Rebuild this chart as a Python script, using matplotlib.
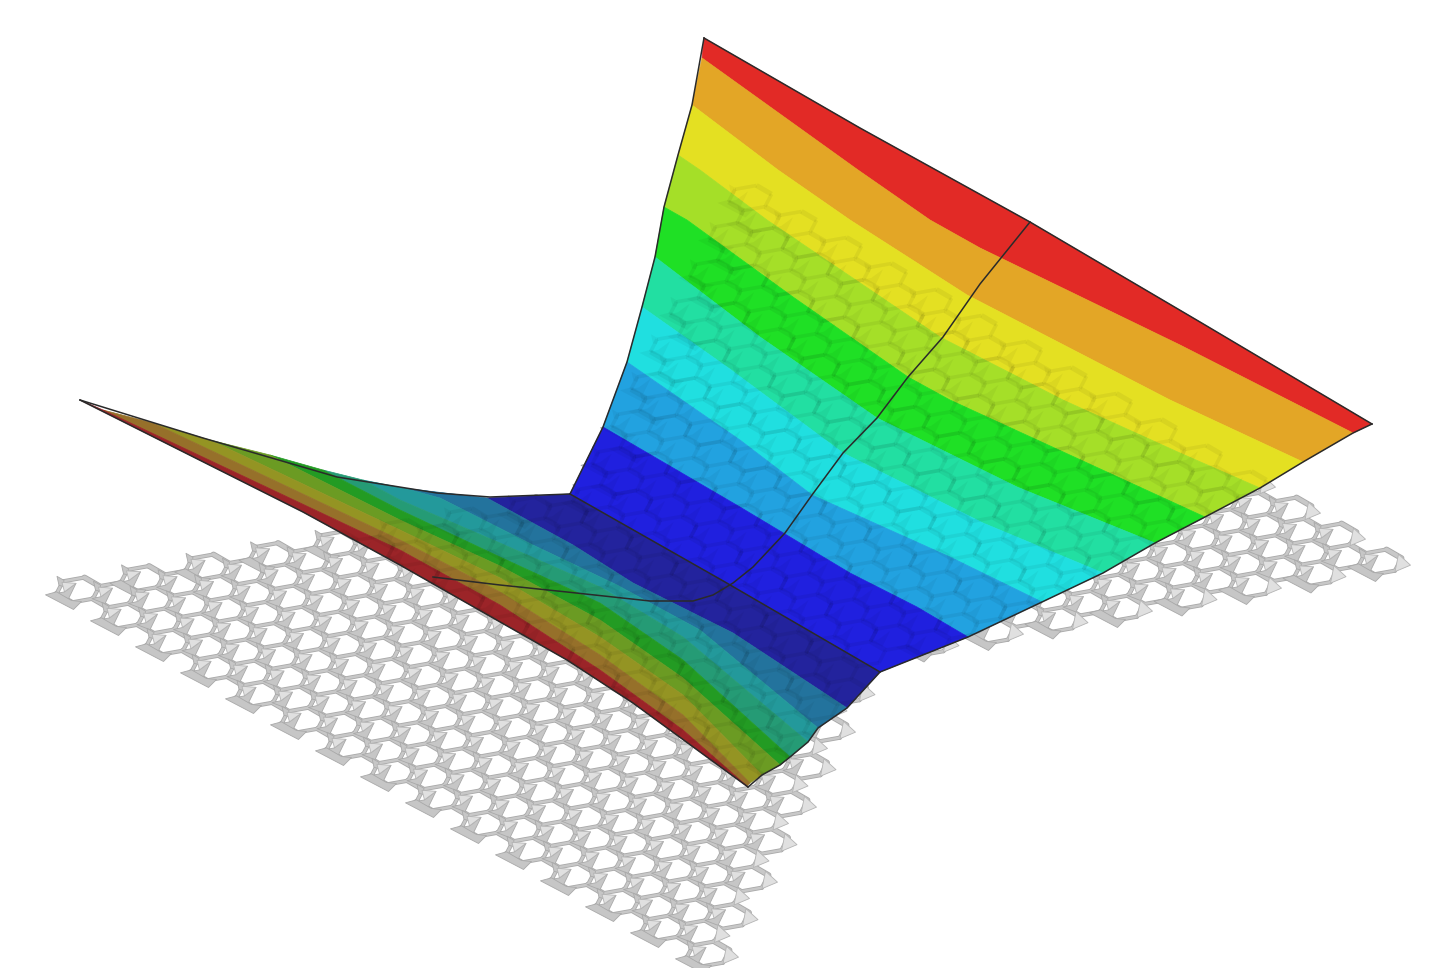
#!/usr/bin/python
"""
Isometric energy surface above a honeycomb sheet. Values are read off the
picture, in picture pixels (x right, y down).
"""

import matplotlib
matplotlib.use("Agg")
from matplotlib import pyplot as plt
from matplotlib.collections import LineCollection, PolyCollection
from matplotlib.patches import Polygon
import numpy as np

# colour bands on the near face, top to bottom
front_colors = ['#e22a26', '#e3a626', '#e4e022', '#a5df28', '#1fe025',
                '#22dfa2', '#20dfe0', '#22a2e0', '#2020df']
# and on the far face, from the valley floor outwards
back_colors = ['#23239d', '#23739d', '#23999b', '#259b75', '#239b23',
               '#6b9b23', '#949423', '#96702a', '#9b2428']

# band boundaries of the near face
front_edges = [
    [(704, 38), (860, 128), (1030, 222), (1200, 322), (1372, 424)],
    [(702, 58), (858, 170), (930, 220), (980, 248), (1180, 345), (1353, 433)],
    [(692, 105), (778, 170), (850, 220), (967, 295), (1170, 400), (1303, 462)],
    [(678, 155), (700, 170), (767, 220), (940, 337), (1063, 400), (1180, 453), (1260, 488)],
    [(664, 207), (687, 220), (793, 297), (908, 377), (950, 400), (1205, 517)],
    [(655, 257), (760, 337), (877, 418), (1017, 487), (1155, 543)],
    [(642, 307), (727, 367), (843, 453), (983, 523), (1103, 573)],
    [(627, 362), (740, 440), (812, 495), (950, 557), (1042, 602)],
    [(603, 427), (740, 507), (850, 573), (917, 607), (968, 637)],
    [(570, 494), (725, 582), (880, 672)],
]

# band boundaries of the far face
back_edges = [
    [(570, 494), (725, 582), (880, 672)],
    [(487, 498), (573, 545), (633, 583), (733, 633), (847, 708)],
    [(403, 488), (440, 498), (533, 545), (617, 585), (700, 630), (818, 728)],
    [(363, 480), (400, 500), (500, 543), (600, 587), (683, 637), (808, 742)],
    [(323, 470), (400, 510), (500, 557), (600, 603), (683, 660), (790, 757)],
    [(270, 455), (400, 520), (500, 566), (600, 620), (683, 678), (780, 765)],
    [(210, 440), (400, 530), (500, 578), (600, 637), (683, 695), (762, 775)],
    [(153, 423), (400, 540), (500, 592), (600, 655), (683, 715), (750, 783)],
    [(103, 410), (400, 550), (500, 605), (600, 670), (683, 730), (747, 786)],
    [(80, 400), (303, 512), (400, 565), (567, 660), (633, 703), (748, 787)],
]

top_rim = [(80, 400), (203, 438), (337, 477), (437, 493), (490, 497), (570, 494)]
left_rim = [(704, 38), (692, 105), (678, 155), (664, 207), (655, 257), (642, 307),
            (627, 362), (603, 427), (570, 494)]
right_rim = [(1372, 424), (1353, 433), (1303, 462), (1260, 488), (1205, 517), (1155, 543),
             (1103, 573), (1042, 602), (968, 637), (880, 672), (847, 708), (818, 728),
             (808, 742), (790, 757), (780, 765), (762, 775), (748, 787)]
far_curve = [(1030, 222), (980, 284), (943, 337), (908, 377), (877, 418), (843, 453),
             (812, 495), (785, 533), (753, 567), (733, 583), (713, 595), (693, 601),
             (650, 601), (567, 592), (500, 585), (433, 577)]

# sheet: cell vectors, first hole, and outline in cell units
cell_a = np.array([45.0, 26.0])
cell_b = np.array([64.5, -11.5])
first_hole = np.array([78.0, 590.0])
sheet_rows = 16
sheet_long = 14
sheet_short = 6
sheet_step = 8


def in_sheet(i, m):
    eps = 1e-6
    if m < -eps or m > sheet_rows + eps:
        return False
    return min(0, sheet_step - m) - eps <= i <= max(sheet_long - m, sheet_short) + eps


def add_bar(bars, seen, p, q):
    # neighbouring holes share their bars
    key = (round(float(p[0] + q[0])), round(float(p[1] + q[1])))
    if key not in seen:
        seen.add(key)
        bars.append([p, q])


def sheet_parts():
    bars_a, bars_b, bars_c, plates_l, plates_d = [], [], [], [], []
    seen = set()
    for u in range(-40, 60):
        for v in range(-40, 60):
            i = (u - v) / 3
            m = (u + 2 * v) / 3
            if not in_sheet(i, m):
                continue
            h = first_hole + i * cell_a + m * cell_b
            b3 = cell_b / 3
            a3 = cell_a / 3
            rt = h + b3
            br = h + a3
            bl = h + a3 - b3
            lf = h - b3
            tl = h - a3
            up = h + b3 - a3
            add_bar(bars_a, seen, up, rt)
            add_bar(bars_a, seen, lf, bl)
            add_bar(bars_b, seen, tl, up)
            add_bar(bars_b, seen, bl, br)
            add_bar(bars_c, seen, tl, lf)
            add_bar(bars_c, seen, rt, br)
            # node plates on the steep hole side
            plates_d.append([lf + (-1, 0), lf + (8, -2), tl + (13, 2), lf + (12, 5)])
            plates_d.append([tl + (-6, -5), tl + (-4, 4), tl + (0, 5), tl + (1, -1)])
            plates_l.append([tl + (-1, 1), tl + (13, 2), lf + (8, -2)])
            # teeth where the sheet ends
            if not in_sheet(i - 1 / 3, m - 1 / 3) or not in_sheet(i + 1 / 3, m - 1 / 3):
                plates_d.append([lf + (-11, 1), bl + (2, 7), bl + (10, -1), bl + (0, -2), lf + (0, -2)])
            if not in_sheet(i + 1 / 3, m + 1 / 3):
                plates_l.append([rt + (-3, -4), rt + (9, 7), br + (0, 1)])
    return bars_a, bars_b, bars_c, plates_l, plates_d


def draw_sheet(ax, bars_a, bars_b, bars_c, plates_l, plates_d, clip=None):
    if clip is None:
        items = [
            LineCollection(bars_a, colors='#a9a9a9', linewidths=4.2, capstyle='round', zorder=1),
            LineCollection(bars_b, colors='#a9a9a9', linewidths=3.0, capstyle='round', zorder=1),
            LineCollection(bars_c, colors='#a9a9a9', linewidths=3.0, capstyle='round', zorder=1),
            LineCollection(bars_a, colors='#c8c8c8', linewidths=2.9, capstyle='round', zorder=1.1),
            LineCollection(bars_b, colors='#c8c8c8', linewidths=1.8, capstyle='round', zorder=1.1),
            LineCollection(bars_c, colors='#c8c8c8', linewidths=1.8, capstyle='round', zorder=1.1),
            PolyCollection(plates_d, facecolors='#c6c6c6', edgecolors='#a9a9a9', linewidths=.6, zorder=1.2),
            PolyCollection(plates_l, facecolors='#e0e0e0', edgecolors='#b4b4b4', linewidths=.6, zorder=1.3),
        ]
    else:
        items = [
            LineCollection(bars_a, colors='k', alpha=.05, linewidths=3.6, zorder=5),
            LineCollection(bars_b, colors='k', alpha=.05, linewidths=2.6, zorder=5),
            LineCollection(bars_c, colors='k', alpha=.05, linewidths=2.6, zorder=5),
            PolyCollection(plates_d, facecolors='k', edgecolors='none', alpha=.04, zorder=5),
        ]
    for c in items:
        ax.add_collection(c)
        if clip is not None:
            c.set_clip_path(clip)


if __name__ == "__main__":
    fig = plt.figure(figsize=(14.4, 9.68), dpi=100)
    ax = fig.add_axes([0, 0, 1, 1])
    ax.set_xlim(0, 1440)
    ax.set_ylim(968, 0)
    ax.axis('off')

    parts = sheet_parts()
    draw_sheet(ax, *parts)

    # surface bands, each between two neighbouring boundaries
    for edges, colors in ((front_edges, front_colors), (back_edges, back_colors)):
        for k, col in enumerate(colors):
            poly = list(edges[k]) + list(edges[k + 1])[::-1]
            ax.add_patch(Polygon(poly, closed=True, fc=col, ec=col, lw=.5, zorder=3))

    # sheet showing through the surface
    outline = (list(front_edges[0]) + right_rim[1:] + back_edges[-1][::-1][1:]
               + top_rim[1:] + left_rim[::-1][:-1])
    shape = Polygon(outline, closed=True, fc='none', ec='none', transform=ax.transData)
    ax.add_patch(shape)
    draw_sheet(ax, *parts, clip=shape)

    # rims and section lines
    rims = [front_edges[0], right_rim, back_edges[-1], top_rim, left_rim, front_edges[-1], far_curve]
    for r in rims:
        r = np.array(r)
        ax.plot(r[:, 0], r[:, 1], color='#2a2a2a', lw=1.1, zorder=6, solid_joinstyle='round')

    fig.savefig('out.png', dpi=100)
